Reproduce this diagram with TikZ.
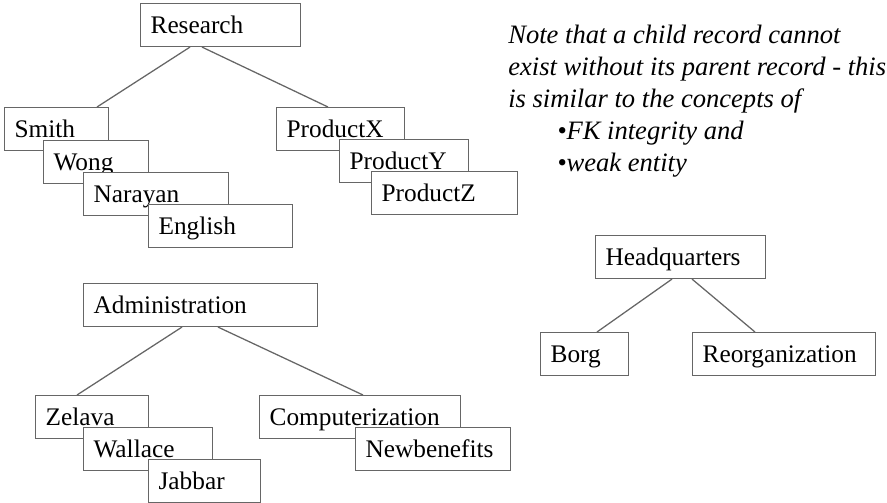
\documentclass[tikz,border=0pt]{standalone}
\usepackage{fontspec}
\setmainfont{Liberation Serif}

\begin{document}
\begin{tikzpicture}[
    font=\fontsize{18pt}{22.8pt}\selectfont,
    link/.style={draw=black!60, line width=0.9pt},
    % Record boxes, text width given per node
    record/.style={draw=black!60, fill=white, line width=0.9pt, anchor=north west, align=left, text width=#1, minimum height=1.07cm, inner xsep=0.25cm, text height=0.5cm, text depth=0.08cm},
    % Other styles
    note/.style={anchor=north west, align=left, inner sep=0pt, font=\itshape\fontsize{18.9pt}{22.8pt}\selectfont}
]
\useasboundingbox (0,0) rectangle (22.175,-12.55);

% --- RESEARCH ---
\node[record=3.5cm] (research) at (3.5,-0.075) {Research};
\node[record=2.1cm] (smith) at (0.1,-2.675) {Smith};
\node[record=2.125cm] (wong) at (1.075,-3.5) {Wong};
\node[record=3.125cm] (narayan) at (2.075,-4.3) {Narayan};
\node[record=3.1cm] (english) at (3.7,-5.1) {English};
\node[record=2.7cm] (productx) at (6.9,-2.675) {ProductX};
\node[record=2.725cm] (producty) at (8.475,-3.475) {ProductY};
\node[record=3.15cm] (productz) at (9.275,-4.275) {ProductZ};
\draw[link] ([xshift=1.25cm]research.south west) -- ([xshift=2.325cm]smith.north west);
\draw[link] ([xshift=1.55cm]research.south west) -- ([xshift=1.3cm]productx.north west);

% --- ADMINISTRATION ---
\node[record=5.35cm] (admin) at (2.075,-7.075) {Administration};
\node[record=2.325cm] (zelava) at (0.875,-9.875) {Zelava};
\node[record=2.725cm] (wallace) at (2.075,-10.675) {Wallace};
\node[record=2.3cm] (jabbar) at (3.7,-11.475) {Jabbar};
\node[record=4.525cm] (computerization) at (6.475,-9.875) {Computerization};
\node[record=3.375cm] (newbenefits) at (8.875,-10.675) {Newbenefits};
\draw[link] ([xshift=2.475cm]admin.south west) -- ([xshift=1.05cm]zelava.north west);
\draw[link] ([xshift=3.375cm]admin.south west) -- ([xshift=2.6cm]computerization.north west);

% --- HEADQUARTERS ---
\node[record=3.75cm] (hq) at (14.875,-5.875) {Headquarters};
\node[record=1.7cm] (borg) at (13.5,-8.3) {Borg};
\node[record=4.075cm] (reorg) at (17.3,-8.3) {Reorganization};
\draw[link] ([xshift=1.925cm]hq.south west) -- ([xshift=1.425cm]borg.north west);
\draw[link] ([xshift=2.425cm]hq.south west) -- ([xshift=1.575cm]reorg.north west);

% --- NOTE ---
\node[note] (remark) at (12.7,-0.61) {Note that a child record cannot\\exist without its parent record - this\\is similar to the concepts of\\\hspace*{1.225cm}•FK integrity and\\\hspace*{1.225cm}•weak entity};

\end{tikzpicture}
\end{document}
